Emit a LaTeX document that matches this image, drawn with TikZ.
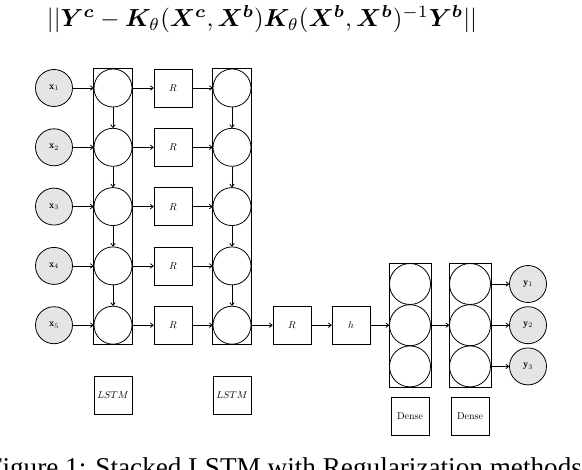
\documentclass[tikz,border=0pt]{standalone}
\usepackage{amsmath}
\usepackage{bm}
\usepackage{graphicx}
\usepackage{fontspec}
\newfontfamily\capfont{Liberation Serif}
\usetikzlibrary{fit,arrows.meta}
\begin{document}
\begin{tikzpicture}[x=1bp,y=-1bp,
  every path/.style={line width=0.8pt},
  arr/.style={-{To[length=3.5bp,width=5bp]}},
  inp/.style={circle,draw,fill=gray!20,minimum size=37bp,inner sep=0pt,font=\fontsize{10}{12}\selectfont},
  cell/.style={circle,draw,minimum size=38bp,inner sep=0pt},
  dcell/.style={circle,draw,minimum size=41bp,inner sep=0pt},
  sq/.style={rectangle,draw,minimum size=38bp,inner sep=0pt,font=\fontsize{10}{12}\selectfont},
  col/.style={rectangle,draw,inner sep=0pt}]
\useasboundingbox (0,0) rectangle (582,470);
% formula
\node (formula) at (262,19.5) {\resizebox{430bp}{!}{$||\bm{Y}^{\bm{c}}-\bm{K}_\theta(\bm{X}^{\bm{c}},\bm{X}^{\bm{b}})\bm{K}_\theta(\bm{X}^{\bm{b}},\bm{X}^{\bm{b}})^{-1}\bm{Y}^{\bm{b}}||$}};
% rows
\foreach \i/\y in {1/88,2/147.3,3/206.6,4/265.9,5/325.2}{
  \node[inp] (in\i) at (54,\y) {$\mathbf{x}_{\i}$};
  \node[cell] (a\i) at (113,\y) {};
  \node[sq] (r\i) at (173,\y) {$R$};
  \node[cell] (b\i) at (232,\y) {};
  \draw[arr] (in\i) -- (a\i);
  \draw[arr] (a\i) -- (r\i);
  \draw[arr] (r\i) -- (b\i);
}
\foreach \i/\j in {1/2,2/3,3/4,4/5}{
  \draw[arr] (a\i) -- (a\j);
  \draw[arr] (b\i) -- (b\j);
}
\node[col,fit=(a1)(a5)] (colA) {};
\node[col,fit=(b1)(b5)] (colB) {};
\node[sq] (lstmA) at (113,395) {$LSTM$};
\node[sq] (lstmB) at (232,395) {$LSTM$};
% tail
\node[sq] (r6) at (292,325.2) {$R$};
\node[sq] (hh) at (351,325.2) {$h$};
\foreach \i/\y in {1/284,2/325.2,3/366.4}{
  \node[dcell] (d\i) at (410,\y) {};
  \node[dcell] (e\i) at (470,\y) {};
  \node[inp] (out\i) at (528,\y) {$\mathbf{y}_{\i}$};
  \draw[arr] (e\i) -- (out\i);
}
\node[col,fit=(d1)(d3)] (colD) {};
\node[col,fit=(e1)(e3)] (colE) {};
\node[sq] (denseA) at (410,416.5) {Dense};
\node[sq] (denseB) at (470,416.5) {Dense};
\draw[arr] (b5) -- (r6);
\draw[arr] (r6) -- (hh);
\draw[arr] (hh) -- (d2);
\draw[arr] (d2) -- (e2);
% caption (cut by the lower edge, as in the reference)
\node[anchor=base west,inner sep=0pt,font=\capfont\fontsize{27.3}{30}\selectfont] (caption) at (-13,476) {Figure 1: Stacked LSTM with Regularization methods};
\end{tikzpicture}
\end{document}
